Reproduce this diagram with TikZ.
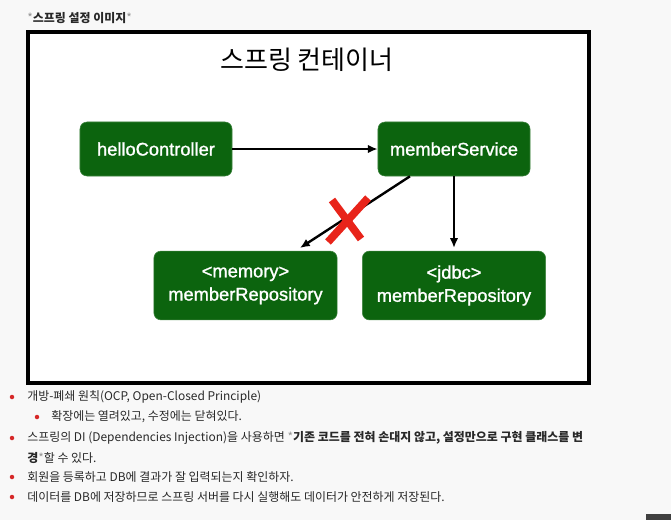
\documentclass[tikz,border=0pt]{standalone}
\usepackage{fontspec}
\setmainfont{Noto Sans CJK KR}
\newfontfamily\boxfont[FakeBold=1.2]{Liberation Sans}
\usetikzlibrary{arrows.meta,positioning}
\definecolor{springgreen}{RGB}{12,100,14}
\definecolor{pagegray}{RGB}{248,248,248}
\definecolor{crossred}{RGB}{232,36,26}
\definecolor{bulletred}{RGB}{214,40,40}
\definecolor{stargray}{RGB}{150,150,150}
\definecolor{textgray}{RGB}{40,40,40}

\begin{document}
\begin{tikzpicture}[x=0.025cm,y=-0.025cm,
    bean/.style={draw=springgreen!80!white,fill=springgreen,rounded corners=5pt,text=white,
      font=\boxfont\fontsize{13}{16.5}\selectfont,align=center,inner sep=0pt},
    wire/.style={line width=1.7pt,-{Latex[length=7pt,width=6pt]}},
    item/.style={anchor=west,inner sep=0pt,text=textgray,font=\fontsize{8.5}{10}\selectfont},
    dot/.style={circle,fill=bulletred,inner sep=0pt,minimum size=3.2pt}
  ]
  \fill[pagegray] (0,0) rectangle (671,520);
  \useasboundingbox (0,0) rectangle (671,520);
  \draw[line width=2.6pt,fill=white] (28,32) rectangle (589,383);
  \fill[black!75] (646,514) rectangle (671,520);

  \node[anchor=west,inner sep=0pt,font=\fontsize{8.5}{10}\selectfont\bfseries,text=textgray] (hdr) at (27,18)
    {\textcolor{stargray}{\mdseries*}스프링 설정 이미지\textcolor{stargray}{\mdseries*}};
  \node[font=\fontsize{18.5}{22}\selectfont] (ttl) at (307,60) {스프링 컨테이너};

  \node[bean,minimum width=3.8cm,minimum height=1.35cm] (hc) at (156,149) {helloController};
  \node[bean,minimum width=3.8cm,minimum height=1.35cm] (ms) at (454,149) {memberService};
  \node[bean,minimum width=4.58cm,minimum height=1.72cm] (mem) at (245.5,285.5) {<memory>\\memberRepository};
  \node[bean,minimum width=4.58cm,minimum height=1.72cm] (jdbc) at (454,285.5) {<jdbc>\\memberRepository};

  \draw[wire] (hc) -- (ms);
  \draw[wire] ([xshift=-1.1cm]ms.south) -- ([xshift=1.36cm,yshift=2pt]mem.north);
  \draw[wire] (ms.south) -- ([yshift=2pt]jdbc.north);

  \coordinate (x) at (348,220);
  \draw[crossred,line width=5.5pt] ([shift={(-16,-20)}]x) -- ([shift={(13,19)}]x);
  \draw[crossred,line width=5.5pt] ([shift={(20,-22)}]x) -- ([shift={(-20,22)}]x);

  \node[dot] (d1) at (12,397) {};
  \node[item] (t1) at (27,397) {개방-폐쇄 원칙(OCP, Open-Closed Principle)};
  \node[dot] (d2) at (37,417) {};
  \node[item] (t2) at (51,417) {확장에는 열려있고, 수정에는 닫혀있다.};
  \node[dot] (d3) at (12,438) {};
  \node[item] (t3) at (27,438) {스프링의 DI (Dependencies Injection)을 사용하면 \textcolor{stargray}{*}\textbf{기존 코드를 전혀 손대지 않고, 설정만으로 구현 클래스를 변}};
  \node[item] (t4) at (27,458) {\textbf{경}\textcolor{stargray}{*}할 수 있다.};
  \node[dot] (d5) at (12,477) {};
  \node[item] (t5) at (27,477) {회원을 등록하고 DB에 결과가 잘 입력되는지 확인하자.};
  \node[dot] (d6) at (12,497) {};
  \node[item] (t6) at (27,497) {데이터를 DB에 저장하므로 스프링 서버를 다시 실행해도 데이터가 안전하게 저장된다.};
\end{tikzpicture}
\end{document}
